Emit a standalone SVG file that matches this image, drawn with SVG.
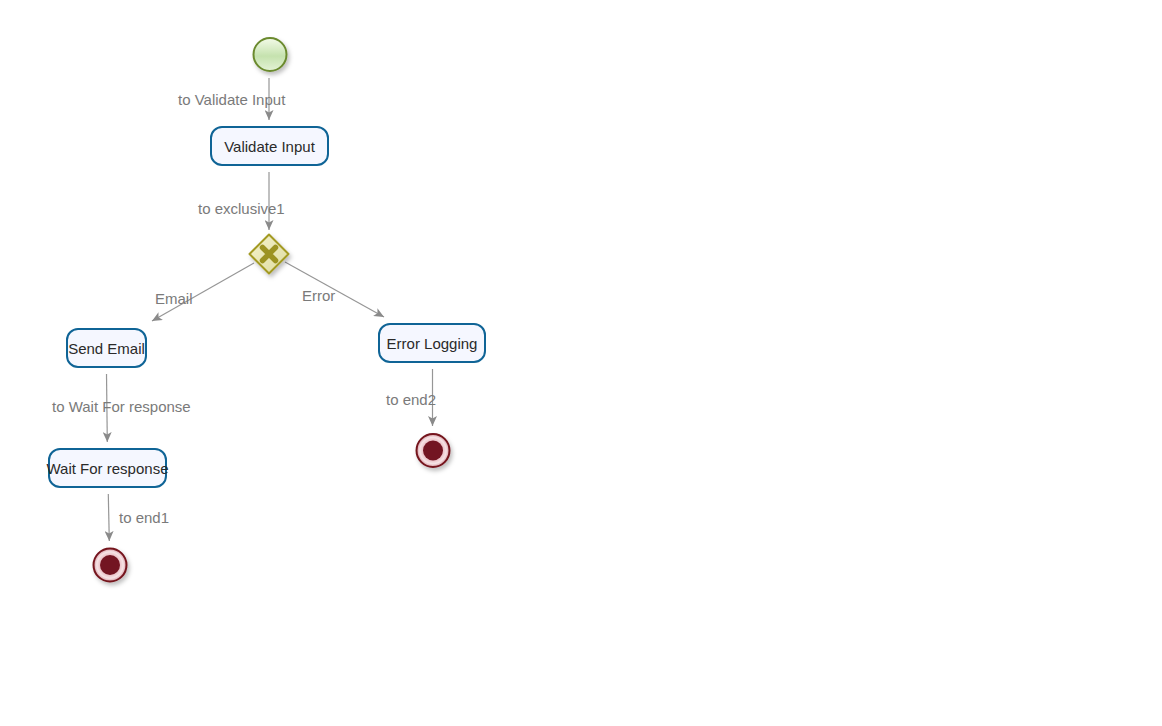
<svg xmlns="http://www.w3.org/2000/svg" width="1162" height="726" viewBox="0 0 1162 726">
<style>
.task rect{fill:#f5f7ff;stroke:#0f6496;stroke-width:2}
.task text{font-family:"Liberation Sans",Arial,sans-serif;font-size:15px;fill:#2a2a2a;text-anchor:middle}
.lbl{font-family:"Liberation Sans",Arial,sans-serif;font-size:15px;fill:#7a7a7a}
.conn line{stroke:#969696;stroke-width:1.2;fill:none}
</style>
<defs>
<marker id="arr" markerWidth="11" markerHeight="9" refX="10" refY="4.5" orient="auto" markerUnits="userSpaceOnUse">
<path d="M0,0 L10,4.5 L0,9 L2.5,4.5 z" fill="#8a8a8a"/>
</marker>
<linearGradient id="gStart" x1="0" y1="0" x2="0" y2="1">
<stop offset="0" stop-color="#f4fbe9"/>
<stop offset="0.55" stop-color="#c5e2ae"/>
<stop offset="1" stop-color="#e4f3d6"/>
</linearGradient>
<radialGradient id="gEnd" cx="0.5" cy="0.5" r="0.5">
<stop offset="0.55" stop-color="#e8b8bf"/>
<stop offset="0.8" stop-color="#f6e4e6"/>
<stop offset="1" stop-color="#d79aa3"/>
</radialGradient>
<linearGradient id="gGw" x1="0" y1="0" x2="1" y2="1">
<stop offset="0" stop-color="#f5f3cc"/>
<stop offset="1" stop-color="#dedba0"/>
</linearGradient>
<filter id="sh" x="-30%" y="-30%" width="170%" height="170%">
<feDropShadow dx="2" dy="3" stdDeviation="2" flood-color="#000" flood-opacity="0.25"/>
</filter>
</defs>
<rect width="1162" height="726" fill="#ffffff"/>

<g id="connectors" class="conn">
<line x1="269" y1="78" x2="269" y2="120" marker-end="url(#arr)"/>
<line x1="269" y1="172" x2="269" y2="230" marker-end="url(#arr)"/>
<line x1="254" y1="263" x2="152" y2="321" marker-end="url(#arr)"/>
<line x1="285" y1="262" x2="384" y2="317" marker-end="url(#arr)"/>
<line x1="106.5" y1="374" x2="107.3" y2="442" marker-end="url(#arr)"/>
<line x1="108.3" y1="494" x2="109.3" y2="541" marker-end="url(#arr)"/>
<line x1="432.5" y1="369" x2="432.5" y2="426" marker-end="url(#arr)"/>
<text class="lbl" x="178" y="105">to Validate Input</text>
<text class="lbl" x="198" y="214">to exclusive1</text>
<text class="lbl" x="155" y="304">Email</text>
<text class="lbl" x="302" y="301">Error</text>
<text class="lbl" x="52" y="412">to Wait For response</text>
<text class="lbl" x="119" y="523">to end1</text>
<text class="lbl" x="386" y="405">to end2</text>
</g>

<g id="start">
<circle cx="270" cy="54.5" r="16.5" fill="url(#gStart)" stroke="#6b8a2e" stroke-width="2" filter="url(#sh)"/>
</g>

<g id="validateInput" class="task">
<rect x="211" y="127" width="117" height="38" rx="11"/>
<text x="269.5" y="152">Validate Input</text>
</g>

<g id="exclusive1">
<path d="M269,234.5 L288.5,254 L269,273.5 L249.5,254 Z" fill="url(#gGw)" stroke="#a39a24" stroke-width="2" stroke-linejoin="round" filter="url(#sh)"/>
<path d="M262.5,247.5 L275.5,260.5 M275.5,247.5 L262.5,260.5" stroke="#9c9322" stroke-width="5.5" stroke-linecap="round"/>
</g>

<g id="sendEmail" class="task">
<rect x="67" y="329" width="79" height="38" rx="11"/>
<text x="106.5" y="354">Send Email</text>
</g>

<g id="waitForResponse" class="task">
<rect x="49" y="449" width="117" height="38" rx="11"/>
<text x="107.5" y="474">Wait For response</text>
</g>

<g id="errorLogging" class="task">
<rect x="379" y="324" width="106" height="38" rx="11"/>
<text x="432" y="349">Error Logging</text>
</g>

<g id="end1">
<circle cx="110" cy="565" r="16.5" fill="url(#gEnd)" stroke="#74141f" stroke-width="2" filter="url(#sh)"/>
<circle cx="110" cy="565" r="10" fill="#731522"/>
</g>

<g id="end2">
<circle cx="433" cy="450.5" r="16.5" fill="url(#gEnd)" stroke="#74141f" stroke-width="2" filter="url(#sh)"/>
<circle cx="433" cy="450.5" r="10" fill="#731522"/>
</g>
</svg>
